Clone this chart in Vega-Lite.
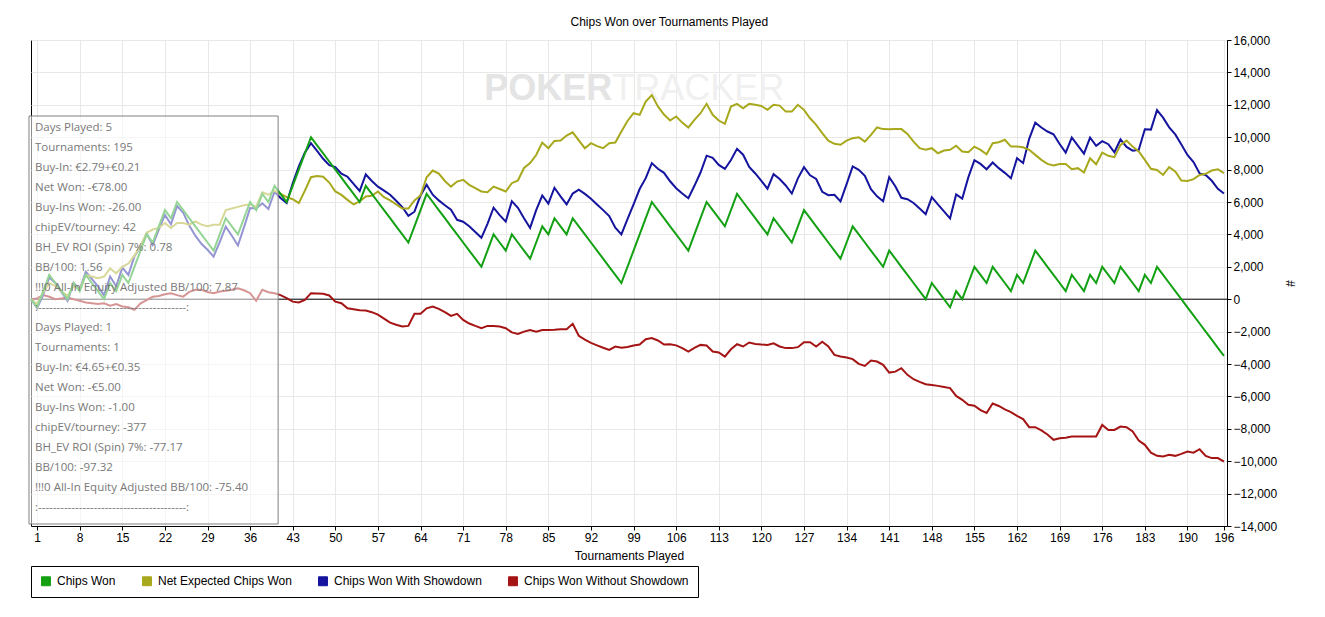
{
  "$schema": "https://vega.github.io/schema/vega-lite/v6.json",
  "width": 1196,
  "height": 486,
  "autosize": {"type": "none"},
  "padding": {"left": 31, "top": 40, "right": 98, "bottom": 91},
  "background": "white",
  "title": {
    "text": "Chips Won over Tournaments Played",
    "font": "Liberation Sans",
    "fontSize": 12,
    "fontWeight": "normal",
    "color": "black",
    "offset": 5,
    "dx": 8,
    "frame": "bounds"
  },
  "config": {
    "view": {"stroke": "black", "strokeWidth": 1},
    "axis": {
      "labelFont": "Liberation Sans",
      "labelFontSize": 12,
      "labelColor": "black",
      "titleFont": "Liberation Sans",
      "titleFontSize": 12,
      "titleFontWeight": "normal",
      "titleColor": "black",
      "gridColor": "#e8e8e8",
      "domainColor": "black",
      "tickColor": "black",
      "tickSize": 4,
      "labelPadding": 2,
      "labelOverlap": false
    },
    "axisY": {"labelOverlap": false},
    "axisRight": {"labelOverlap": false},
    "axisQuantitative": {"labelOverlap": false}
  },
  "datasets": {
    "cw": [
      {"t":0,"v":0},{"t":1,"v":-500},{"t":2,"v":500},{"t":3,"v":1500},{"t":4,"v":1000},{"t":5,"v":500},{"t":6,"v":0},{"t":7,"v":1000},{"t":8,"v":500},{"t":9,"v":1500},
      {"t":10,"v":1000},{"t":11,"v":500},{"t":12,"v":0},{"t":13,"v":1000},{"t":14,"v":500},{"t":15,"v":1500},{"t":16,"v":1000},{"t":17,"v":2000},{"t":18,"v":3000},{"t":19,"v":4000},
      {"t":20,"v":3500},{"t":21,"v":4500},{"t":22,"v":5500},{"t":23,"v":5000},{"t":24,"v":6000},{"t":25,"v":5500},{"t":26,"v":5000},{"t":27,"v":4500},{"t":28,"v":4000},{"t":29,"v":3500},
      {"t":30,"v":3000},{"t":31,"v":4000},{"t":32,"v":5000},{"t":33,"v":4500},{"t":34,"v":4000},{"t":35,"v":5000},{"t":36,"v":6000},{"t":37,"v":5500},{"t":38,"v":6500},{"t":39,"v":6000},
      {"t":40,"v":7000},{"t":41,"v":6500},{"t":42,"v":6000},{"t":43,"v":7000},{"t":44,"v":8000},{"t":45,"v":9000},{"t":46,"v":10000},{"t":47,"v":9500},{"t":48,"v":9000},{"t":49,"v":8500},
      {"t":50,"v":8000},{"t":51,"v":7500},{"t":52,"v":7000},{"t":53,"v":6500},{"t":54,"v":6000},{"t":55,"v":7000},{"t":56,"v":6500},{"t":57,"v":6000},{"t":58,"v":5500},{"t":59,"v":5000},
      {"t":60,"v":4500},{"t":61,"v":4000},{"t":62,"v":3500},{"t":63,"v":4500},{"t":64,"v":5500},{"t":65,"v":6500},{"t":66,"v":6000},{"t":67,"v":5500},{"t":68,"v":5000},{"t":69,"v":4500},
      {"t":70,"v":4000},{"t":71,"v":3500},{"t":72,"v":3000},{"t":73,"v":2500},{"t":74,"v":2000},{"t":75,"v":3000},{"t":76,"v":4000},{"t":77,"v":3500},{"t":78,"v":3000},{"t":79,"v":4000},
      {"t":80,"v":3500},{"t":81,"v":3000},{"t":82,"v":2500},{"t":83,"v":3500},{"t":84,"v":4500},{"t":85,"v":4000},{"t":86,"v":5000},{"t":87,"v":4500},{"t":88,"v":4000},{"t":89,"v":5000},
      {"t":90,"v":4500},{"t":91,"v":4000},{"t":92,"v":3500},{"t":93,"v":3000},{"t":94,"v":2500},{"t":95,"v":2000},{"t":96,"v":1500},{"t":97,"v":1000},{"t":98,"v":2000},{"t":99,"v":3000},
      {"t":100,"v":4000},{"t":101,"v":5000},{"t":102,"v":6000},{"t":103,"v":5500},{"t":104,"v":5000},{"t":105,"v":4500},{"t":106,"v":4000},{"t":107,"v":3500},{"t":108,"v":3000},{"t":109,"v":4000},
      {"t":110,"v":5000},{"t":111,"v":6000},{"t":112,"v":5500},{"t":113,"v":5000},{"t":114,"v":4500},{"t":115,"v":5500},{"t":116,"v":6500},{"t":117,"v":6000},{"t":118,"v":5500},{"t":119,"v":5000},
      {"t":120,"v":4500},{"t":121,"v":4000},{"t":122,"v":5000},{"t":123,"v":4500},{"t":124,"v":4000},{"t":125,"v":3500},{"t":126,"v":4500},{"t":127,"v":5500},{"t":128,"v":5000},{"t":129,"v":4500},
      {"t":130,"v":4000},{"t":131,"v":3500},{"t":132,"v":3000},{"t":133,"v":2500},{"t":134,"v":3500},{"t":135,"v":4500},{"t":136,"v":4000},{"t":137,"v":3500},{"t":138,"v":3000},{"t":139,"v":2500},
      {"t":140,"v":2000},{"t":141,"v":3000},{"t":142,"v":2500},{"t":143,"v":2000},{"t":144,"v":1500},{"t":145,"v":1000},{"t":146,"v":500},{"t":147,"v":0},{"t":148,"v":1000},{"t":149,"v":500},
      {"t":150,"v":0},{"t":151,"v":-500},{"t":152,"v":500},{"t":153,"v":0},{"t":154,"v":1000},{"t":155,"v":2000},{"t":156,"v":1500},{"t":157,"v":1000},{"t":158,"v":2000},{"t":159,"v":1500},
      {"t":160,"v":1000},{"t":161,"v":500},{"t":162,"v":1500},{"t":163,"v":1000},{"t":164,"v":2000},{"t":165,"v":3000},{"t":166,"v":2500},{"t":167,"v":2000},{"t":168,"v":1500},{"t":169,"v":1000},
      {"t":170,"v":500},{"t":171,"v":1500},{"t":172,"v":1000},{"t":173,"v":500},{"t":174,"v":1500},{"t":175,"v":1000},{"t":176,"v":2000},{"t":177,"v":1500},{"t":178,"v":1000},{"t":179,"v":2000},
      {"t":180,"v":1500},{"t":181,"v":1000},{"t":182,"v":500},{"t":183,"v":1500},{"t":184,"v":1000},{"t":185,"v":2000},{"t":186,"v":1500},{"t":187,"v":1000},{"t":188,"v":500},{"t":189,"v":0},
      {"t":190,"v":-500},{"t":191,"v":-1000},{"t":192,"v":-1500},{"t":193,"v":-2000},{"t":194,"v":-2500},{"t":195,"v":-3000},{"t":196,"v":-3500}
    ],
    "ne": [
      {"t":0,"v":0},{"t":1,"v":-300},{"t":2,"v":400},{"t":3,"v":1000},{"t":4,"v":800},{"t":5,"v":500},{"t":6,"v":200},{"t":7,"v":800},{"t":8,"v":600},{"t":9,"v":1500},
      {"t":10,"v":1400},{"t":11,"v":1300},{"t":12,"v":1400},{"t":13,"v":1900},{"t":14,"v":1600},{"t":15,"v":2000},{"t":16,"v":2200},{"t":17,"v":2700},{"t":18,"v":3300},{"t":19,"v":4100},
      {"t":20,"v":4300},{"t":21,"v":4400},{"t":22,"v":4700},{"t":23,"v":4400},{"t":24,"v":4700},{"t":25,"v":4700},{"t":26,"v":4600},{"t":27,"v":4800},{"t":28,"v":4600},{"t":29,"v":4500},
      {"t":30,"v":4600},{"t":31,"v":4600},{"t":32,"v":5500},{"t":33,"v":5600},{"t":34,"v":5700},{"t":35,"v":5800},{"t":36,"v":5850},{"t":37,"v":5700},{"t":38,"v":6600},{"t":39,"v":6450},
      {"t":40,"v":6700},{"t":41,"v":6500},{"t":42,"v":6300},{"t":43,"v":6170},{"t":44,"v":5930},{"t":45,"v":6700},{"t":46,"v":7530},{"t":47,"v":7600},{"t":48,"v":7560},{"t":49,"v":7200},
      {"t":50,"v":6650},{"t":51,"v":6440},{"t":52,"v":6130},{"t":53,"v":5850},{"t":54,"v":6030},{"t":55,"v":6340},{"t":56,"v":6380},{"t":57,"v":6650},{"t":58,"v":6300},{"t":59,"v":6100},
      {"t":60,"v":5850},{"t":61,"v":5600},{"t":62,"v":5600},{"t":63,"v":6100},{"t":64,"v":6400},{"t":65,"v":7530},{"t":66,"v":7940},{"t":67,"v":7750},{"t":68,"v":7300},{"t":69,"v":6950},
      {"t":70,"v":7260},{"t":71,"v":7370},{"t":72,"v":7060},{"t":73,"v":6850},{"t":74,"v":6650},{"t":75,"v":6600},{"t":76,"v":6950},{"t":77,"v":6800},{"t":78,"v":6650},{"t":79,"v":7160},
      {"t":80,"v":7330},{"t":81,"v":8100},{"t":82,"v":8400},{"t":83,"v":8900},{"t":84,"v":9670},{"t":85,"v":9320},{"t":86,"v":9770},{"t":87,"v":9800},{"t":88,"v":10100},{"t":89,"v":10300},
      {"t":90,"v":9800},{"t":91,"v":9320},{"t":92,"v":9630},{"t":93,"v":9450},{"t":94,"v":9320},{"t":95,"v":9630},{"t":96,"v":9670},{"t":97,"v":10350},{"t":98,"v":11000},{"t":99,"v":11480},
      {"t":100,"v":11380},{"t":101,"v":12200},{"t":102,"v":12600},{"t":103,"v":11900},{"t":104,"v":11400},{"t":105,"v":11030},{"t":106,"v":11280},{"t":107,"v":10900},{"t":108,"v":10600},{"t":109,"v":11070},
      {"t":110,"v":11480},{"t":111,"v":12060},{"t":112,"v":11380},{"t":113,"v":11030},{"t":114,"v":10820},{"t":115,"v":11890},{"t":116,"v":12060},{"t":117,"v":11790},{"t":118,"v":12060},{"t":119,"v":12000},
      {"t":120,"v":11930},{"t":121,"v":11690},{"t":122,"v":12000},{"t":123,"v":11950},{"t":124,"v":11580},{"t":125,"v":11580},{"t":126,"v":12000},{"t":127,"v":11690},{"t":128,"v":11170},{"t":129,"v":10760},
      {"t":130,"v":10250},{"t":131,"v":9790},{"t":132,"v":9590},{"t":133,"v":9530},{"t":134,"v":9790},{"t":135,"v":9940},{"t":136,"v":10000},{"t":137,"v":9730},{"t":138,"v":10140},{"t":139,"v":10600},
      {"t":140,"v":10500},{"t":141,"v":10490},{"t":142,"v":10500},{"t":143,"v":10500},{"t":144,"v":10200},{"t":145,"v":9730},{"t":146,"v":9320},{"t":147,"v":9220},{"t":148,"v":9320},{"t":149,"v":9010},
      {"t":150,"v":9180},{"t":151,"v":9220},{"t":152,"v":9470},{"t":153,"v":9120},{"t":154,"v":9070},{"t":155,"v":9420},{"t":156,"v":9220},{"t":157,"v":8950},{"t":158,"v":9630},{"t":159,"v":9690},
      {"t":160,"v":9840},{"t":161,"v":9420},{"t":162,"v":9420},{"t":163,"v":9380},{"t":164,"v":9220},{"t":165,"v":8910},{"t":166,"v":8600},{"t":167,"v":8350},{"t":168,"v":8250},{"t":169,"v":8350},
      {"t":170,"v":8350},{"t":171,"v":8020},{"t":172,"v":8090},{"t":173,"v":7820},{"t":174,"v":8700},{"t":175,"v":8330},{"t":176,"v":9050},{"t":177,"v":8850},{"t":178,"v":8770},{"t":179,"v":9530},
      {"t":180,"v":9790},{"t":181,"v":9420},{"t":182,"v":9120},{"t":183,"v":8600},{"t":184,"v":8050},{"t":185,"v":7980},{"t":186,"v":7670},{"t":187,"v":8150},{"t":188,"v":7880},{"t":189,"v":7330},
      {"t":190,"v":7300},{"t":191,"v":7410},{"t":192,"v":7670},{"t":193,"v":7740},{"t":194,"v":7940},{"t":195,"v":8020},{"t":196,"v":7780}
    ],
    "ws": [
      {"t":0,"v":0},{"t":1,"v":-550},{"t":2,"v":250},{"t":3,"v":1350},{"t":4,"v":1000},{"t":5,"v":450},{"t":6,"v":-100},{"t":7,"v":1000},{"t":8,"v":600},{"t":9,"v":1700},
      {"t":10,"v":1250},{"t":11,"v":800},{"t":12,"v":250},{"t":13,"v":1400},{"t":14,"v":800},{"t":15,"v":1950},{"t":16,"v":1500},{"t":17,"v":2650},{"t":18,"v":3250},{"t":19,"v":4050},
      {"t":20,"v":3350},{"t":21,"v":4300},{"t":22,"v":5200},{"t":23,"v":4630},{"t":24,"v":5750},{"t":25,"v":5340},{"t":26,"v":4550},{"t":27,"v":3920},{"t":28,"v":3420},{"t":29,"v":3050},
      {"t":30,"v":2630},{"t":31,"v":3530},{"t":32,"v":4480},{"t":33,"v":3920},{"t":34,"v":3320},{"t":35,"v":4450},{"t":36,"v":5630},{"t":37,"v":5600},{"t":38,"v":5920},{"t":39,"v":5570},
      {"t":40,"v":6630},{"t":41,"v":6250},{"t":42,"v":5940},{"t":43,"v":7150},{"t":44,"v":8200},{"t":45,"v":9050},{"t":46,"v":9630},{"t":47,"v":9150},{"t":48,"v":8670},{"t":49,"v":8270},
      {"t":50,"v":8150},{"t":51,"v":7750},{"t":52,"v":7560},{"t":53,"v":7120},{"t":54,"v":6680},{"t":55,"v":7700},{"t":56,"v":7300},{"t":57,"v":6950},{"t":58,"v":6700},{"t":59,"v":6450},
      {"t":60,"v":6080},{"t":61,"v":5690},{"t":62,"v":5150},{"t":63,"v":5400},{"t":64,"v":6400},{"t":65,"v":7060},{"t":66,"v":6450},{"t":67,"v":6100},{"t":68,"v":5800},{"t":69,"v":5530},
      {"t":70,"v":4900},{"t":71,"v":4780},{"t":72,"v":4500},{"t":73,"v":4150},{"t":74,"v":3790},{"t":75,"v":4650},{"t":76,"v":5650},{"t":77,"v":5190},{"t":78,"v":4790},{"t":79,"v":6050},
      {"t":80,"v":5640},{"t":81,"v":5000},{"t":82,"v":4400},{"t":83,"v":5500},{"t":84,"v":6400},{"t":85,"v":5900},{"t":86,"v":6880},{"t":87,"v":6350},{"t":88,"v":5850},{"t":89,"v":6520},
      {"t":90,"v":6760},{"t":91,"v":6500},{"t":92,"v":6200},{"t":93,"v":5850},{"t":94,"v":5500},{"t":95,"v":5130},{"t":96,"v":4420},{"t":97,"v":4000},{"t":98,"v":4950},{"t":99,"v":5860},
      {"t":100,"v":6800},{"t":101,"v":7470},{"t":102,"v":8400},{"t":103,"v":8050},{"t":104,"v":7800},{"t":105,"v":7280},{"t":106,"v":6850},{"t":107,"v":6520},{"t":108,"v":6230},{"t":109,"v":7000},
      {"t":110,"v":7820},{"t":111,"v":8860},{"t":112,"v":8730},{"t":113,"v":8290},{"t":114,"v":8040},{"t":115,"v":8590},{"t":116,"v":9280},{"t":117,"v":8920},{"t":118,"v":8170},{"t":119,"v":7760},
      {"t":120,"v":7300},{"t":121,"v":6820},{"t":122,"v":7720},{"t":123,"v":7420},{"t":124,"v":7020},{"t":125,"v":6520},{"t":126,"v":7460},{"t":127,"v":8150},{"t":128,"v":7650},{"t":129,"v":7420},
      {"t":130,"v":6630},{"t":131,"v":6420},{"t":132,"v":6440},{"t":133,"v":6040},{"t":134,"v":7100},{"t":135,"v":8200},{"t":136,"v":7990},{"t":137,"v":7620},{"t":138,"v":6790},{"t":139,"v":6350},
      {"t":140,"v":6050},{"t":141,"v":7530},{"t":142,"v":6970},{"t":143,"v":6260},{"t":144,"v":6170},{"t":145,"v":5940},{"t":146,"v":5600},{"t":147,"v":5250},{"t":148,"v":6300},{"t":149,"v":5850},
      {"t":150,"v":5420},{"t":151,"v":4990},{"t":152,"v":6470},{"t":153,"v":6210},{"t":154,"v":7520},{"t":155,"v":8580},{"t":156,"v":8350},{"t":157,"v":8020},{"t":158,"v":8440},{"t":159,"v":8090},
      {"t":160,"v":7800},{"t":161,"v":7470},{"t":162,"v":8700},{"t":163,"v":8400},{"t":164,"v":9900},{"t":165,"v":10900},{"t":166,"v":10600},{"t":167,"v":10350},{"t":168,"v":10180},{"t":169,"v":9580},
      {"t":170,"v":9050},{"t":171,"v":9980},{"t":172,"v":9480},{"t":173,"v":8980},{"t":174,"v":9980},{"t":175,"v":9470},{"t":176,"v":9760},{"t":177,"v":9570},{"t":178,"v":9070},{"t":179,"v":9860},
      {"t":180,"v":9400},{"t":181,"v":9170},{"t":182,"v":9220},{"t":183,"v":10490},{"t":184,"v":10470},{"t":185,"v":11670},{"t":186,"v":11210},{"t":187,"v":10610},{"t":188,"v":10170},{"t":189,"v":9550},
      {"t":190,"v":8900},{"t":191,"v":8470},{"t":192,"v":7760},{"t":193,"v":7670},{"t":194,"v":7310},{"t":195,"v":6810},{"t":196,"v":6520}
    ],
    "wo": [
      {"t":0,"v":0},{"t":1,"v":50},{"t":2,"v":250},{"t":3,"v":150},{"t":4,"v":0},{"t":5,"v":50},{"t":6,"v":100},{"t":7,"v":0},{"t":8,"v":-100},{"t":9,"v":-200},
      {"t":10,"v":-250},{"t":11,"v":-300},{"t":12,"v":-250},{"t":13,"v":-400},{"t":14,"v":-300},{"t":15,"v":-450},{"t":16,"v":-500},{"t":17,"v":-650},{"t":18,"v":-250},{"t":19,"v":-50},
      {"t":20,"v":150},{"t":21,"v":200},{"t":22,"v":300},{"t":23,"v":370},{"t":24,"v":250},{"t":25,"v":160},{"t":26,"v":450},{"t":27,"v":580},{"t":28,"v":580},{"t":29,"v":450},
      {"t":30,"v":370},{"t":31,"v":470},{"t":32,"v":520},{"t":33,"v":580},{"t":34,"v":680},{"t":35,"v":550},{"t":36,"v":370},{"t":37,"v":-100},{"t":38,"v":580},{"t":39,"v":430},
      {"t":40,"v":370},{"t":41,"v":250},{"t":42,"v":60},{"t":43,"v":-150},{"t":44,"v":-200},{"t":45,"v":-50},{"t":46,"v":370},{"t":47,"v":350},{"t":48,"v":330},{"t":49,"v":230},
      {"t":50,"v":-150},{"t":51,"v":-250},{"t":52,"v":-560},{"t":53,"v":-620},{"t":54,"v":-680},{"t":55,"v":-700},{"t":56,"v":-800},{"t":57,"v":-950},{"t":58,"v":-1200},{"t":59,"v":-1450},
      {"t":60,"v":-1580},{"t":61,"v":-1690},{"t":62,"v":-1650},{"t":63,"v":-900},{"t":64,"v":-900},{"t":65,"v":-560},{"t":66,"v":-450},{"t":67,"v":-600},{"t":68,"v":-800},{"t":69,"v":-1030},
      {"t":70,"v":-900},{"t":71,"v":-1280},{"t":72,"v":-1500},{"t":73,"v":-1650},{"t":74,"v":-1790},{"t":75,"v":-1650},{"t":76,"v":-1650},{"t":77,"v":-1690},{"t":78,"v":-1790},{"t":79,"v":-2050},
      {"t":80,"v":-2140},{"t":81,"v":-2000},{"t":82,"v":-1900},{"t":83,"v":-2000},{"t":84,"v":-1900},{"t":85,"v":-1900},{"t":86,"v":-1880},{"t":87,"v":-1850},{"t":88,"v":-1850},{"t":89,"v":-1520},
      {"t":90,"v":-2260},{"t":91,"v":-2500},{"t":92,"v":-2700},{"t":93,"v":-2850},{"t":94,"v":-3000},{"t":95,"v":-3130},{"t":96,"v":-2920},{"t":97,"v":-3000},{"t":98,"v":-2950},{"t":99,"v":-2860},
      {"t":100,"v":-2800},{"t":101,"v":-2470},{"t":102,"v":-2400},{"t":103,"v":-2550},{"t":104,"v":-2800},{"t":105,"v":-2780},{"t":106,"v":-2850},{"t":107,"v":-3020},{"t":108,"v":-3230},{"t":109,"v":-3000},
      {"t":110,"v":-2820},{"t":111,"v":-2860},{"t":112,"v":-3230},{"t":113,"v":-3290},{"t":114,"v":-3540},{"t":115,"v":-3090},{"t":116,"v":-2780},{"t":117,"v":-2920},{"t":118,"v":-2670},{"t":119,"v":-2760},
      {"t":120,"v":-2800},{"t":121,"v":-2820},{"t":122,"v":-2720},{"t":123,"v":-2920},{"t":124,"v":-3020},{"t":125,"v":-3020},{"t":126,"v":-2960},{"t":127,"v":-2650},{"t":128,"v":-2650},{"t":129,"v":-2920},
      {"t":130,"v":-2630},{"t":131,"v":-2920},{"t":132,"v":-3440},{"t":133,"v":-3540},{"t":134,"v":-3600},{"t":135,"v":-3700},{"t":136,"v":-3990},{"t":137,"v":-4120},{"t":138,"v":-3790},{"t":139,"v":-3850},
      {"t":140,"v":-4050},{"t":141,"v":-4530},{"t":142,"v":-4470},{"t":143,"v":-4260},{"t":144,"v":-4670},{"t":145,"v":-4940},{"t":146,"v":-5100},{"t":147,"v":-5250},{"t":148,"v":-5300},{"t":149,"v":-5350},
      {"t":150,"v":-5420},{"t":151,"v":-5490},{"t":152,"v":-5970},{"t":153,"v":-6210},{"t":154,"v":-6520},{"t":155,"v":-6580},{"t":156,"v":-6850},{"t":157,"v":-7020},{"t":158,"v":-6440},{"t":159,"v":-6590},
      {"t":160,"v":-6800},{"t":161,"v":-6970},{"t":162,"v":-7200},{"t":163,"v":-7400},{"t":164,"v":-7900},{"t":165,"v":-7900},{"t":166,"v":-8100},{"t":167,"v":-8350},{"t":168,"v":-8680},{"t":169,"v":-8580},
      {"t":170,"v":-8550},{"t":171,"v":-8480},{"t":172,"v":-8480},{"t":173,"v":-8480},{"t":174,"v":-8480},{"t":175,"v":-8470},{"t":176,"v":-7760},{"t":177,"v":-8070},{"t":178,"v":-8070},{"t":179,"v":-7860},
      {"t":180,"v":-7900},{"t":181,"v":-8170},{"t":182,"v":-8720},{"t":183,"v":-8990},{"t":184,"v":-9470},{"t":185,"v":-9670},{"t":186,"v":-9710},{"t":187,"v":-9610},{"t":188,"v":-9670},{"t":189,"v":-9550},
      {"t":190,"v":-9400},{"t":191,"v":-9470},{"t":192,"v":-9260},{"t":193,"v":-9670},{"t":194,"v":-9810},{"t":195,"v":-9810},{"t":196,"v":-10020}
    ],
    "tip": [
      {"row":1,"text":"Days Played: 5"},
      {"row":2,"text":"Tournaments: 195"},
      {"row":3,"text":"Buy-In: €2.79+€0.21"},
      {"row":4,"text":"Net Won: -€78.00"},
      {"row":5,"text":"Buy-Ins Won: -26.00"},
      {"row":6,"text":"chipEV/tourney: 42"},
      {"row":7,"text":"BH_EV ROI (Spin) 7%: 0.78"},
      {"row":8,"text":"BB/100: 1.56"},
      {"row":9,"text":"!!!0 All-In Equity Adjusted BB/100: 7.87"},
      {"row":10,"text":":----------------------------------------:"},
      {"row":11,"text":"Days Played: 1"},
      {"row":12,"text":"Tournaments: 1"},
      {"row":13,"text":"Buy-In: €4.65+€0.35"},
      {"row":14,"text":"Net Won: -€5.00"},
      {"row":15,"text":"Buy-Ins Won: -1.00"},
      {"row":16,"text":"chipEV/tourney: -377"},
      {"row":17,"text":"BH_EV ROI (Spin) 7%: -77.17"},
      {"row":18,"text":"BB/100: -97.32"},
      {"row":19,"text":"!!!0 All-In Equity Adjusted BB/100: -75.40"},
      {"row":20,"text":":----------------------------------------:"}
    ]
  },
  "layer": [
    {
      "layer": [
        {
          "data": {"values": [{"word": "POKER"}]},
          "mark": {"type": "text", "font": "Liberation Sans", "fontSize": 36, "fontWeight": "bold", "color": "#e4e4e4", "align": "right", "baseline": "middle"},
          "encoding": {
            "x": {"datum": 95.5, "type": "quantitative", "scale": {"domain": [0, 196.5], "nice": false, "zero": false}},
            "y": {"datum": 13000, "type": "quantitative"},
            "text": {"field": "word"}
          }
        },
        {
          "data": {"values": [{"word": "TRACKER"}]},
          "mark": {"type": "text", "font": "Liberation Sans", "fontSize": 36, "color": "#f0f0f0", "align": "left", "baseline": "middle"},
          "encoding": {
            "x": {"datum": 95.5, "type": "quantitative", "scale": {"domain": [0, 196.5], "nice": false, "zero": false}},
            "y": {"datum": 13000, "type": "quantitative"},
            "text": {"field": "word"}
          }
        },
        {
          "data": {"values": [{"zero": 0}]},
          "mark": {"type": "rule", "color": "black", "strokeWidth": 1},
          "encoding": {
            "y": {"field": "zero", "type": "quantitative"}
          }
        },
        {
          "data": {"name": "wo"},
          "mark": {"type": "line", "strokeWidth": 2},
          "encoding": {
            "x": {"field": "t", "type": "quantitative"},
            "y": {"field": "v", "type": "quantitative"},
            "color": {"datum": "Chips Won Without Showdown"}
          }
        },
        {
          "data": {"name": "ws"},
          "mark": {"type": "line", "strokeWidth": 2},
          "encoding": {
            "x": {"field": "t", "type": "quantitative"},
            "y": {"field": "v", "type": "quantitative"},
            "color": {"datum": "Chips Won With Showdown"}
          }
        },
        {
          "data": {"name": "ne"},
          "mark": {"type": "line", "strokeWidth": 2},
          "encoding": {
            "x": {"field": "t", "type": "quantitative"},
            "y": {"field": "v", "type": "quantitative"},
            "color": {"datum": "Net Expected Chips Won"}
          }
        },
        {
          "data": {"name": "cw"},
          "mark": {"type": "line", "strokeWidth": 2},
          "encoding": {
            "x": {
              "field": "t",
              "type": "quantitative",
              "title": "Tournaments Played",
              "scale": {"domain": [0, 196.5], "nice": false, "zero": false},
              "axis": {
                "values": [1, 8, 15, 22, 29, 36, 43, 50, 57, 64, 71, 78, 85, 92, 99, 106, 113, 120, 127, 134, 141, 148, 155, 162, 169, 176, 183, 190, 196],
                "grid": true,
                "labelOverlap": false,
                "titlePadding": 7
              }
            },
            "y": {
              "field": "v",
              "type": "quantitative",
              "title": "#",
              "scale": {"domain": [-14000, 16000], "nice": false, "zero": false},
              "axis": {
                "orient": "right",
                "values": [-14000, -12000, -10000, -8000, -6000, -4000, -2000, 0, 2000, 4000, 6000, 8000, 10000, 12000, 14000, 16000],
                "tickCount": 16,
                "format": ",d",
                "grid": true,
                "labelOverlap": false,
                "titlePadding": 6
              }
            },
            "color": {
              "datum": "Chips Won",
              "type": "nominal",
              "scale": {
                "domain": ["Chips Won", "Net Expected Chips Won", "Chips Won With Showdown", "Chips Won Without Showdown"],
                "range": ["#13a013", "#a8a81c", "#14149e", "#a51414"]
              },
              "legend": {
                "orient": "bottom",
                "direction": "horizontal",
                "title": null,
                "symbolType": "square",
                "symbolSize": 80,
                "symbolStrokeWidth": 1,
                "labelFont": "Liberation Sans",
                "labelFontSize": 12,
                "labelColor": "black",
                "labelOffset": 5,
                "labelLimit": 400,
                "columnPadding": 24,
                "strokeColor": "black",
                "padding": 9,
                "offset": 5,
                "encode": {
                  "symbols": {
                    "update": {
                      "fill": {"scale": "color", "field": "value"},
                      "stroke": {"value": "black"},
                      "strokeWidth": {"value": 1},
                      "opacity": {"value": 1}
                    }
                  }
                }
              }
            }
          }
        }
      ]
    },
    {
      "layer": [
        {
          "data": {"values": [{"box": "tooltip"}]},
          "mark": {"type": "rect", "fill": "white", "fillOpacity": 0.55, "stroke": "#808080", "strokeWidth": 1},
          "encoding": {
            "x": {"datum": -0.33, "type": "quantitative", "scale": {"domain": [0, 196.5], "nice": false, "zero": false}},
            "x2": {"datum": 40.6},
            "y": {"datum": 0.4, "type": "quantitative", "scale": {"domain": [-3.4, 20.9], "reverse": true, "nice": false, "zero": false}, "axis": null},
            "y2": {"datum": 20.8}
          }
        },
        {
          "data": {"name": "tip"},
          "mark": {"type": "text", "font": "Open Sans", "fontSize": 11.5, "color": "#787878", "align": "left", "baseline": "middle", "dx": 4},
          "encoding": {
            "x": {"datum": 0, "type": "quantitative"},
            "y": {"field": "row", "type": "quantitative", "axis": null},
            "text": {"field": "text"}
          }
        }
      ]
    }
  ],
  "resolve": {"scale": {"y": "independent"}, "axis": {"y": "independent"}}
}
